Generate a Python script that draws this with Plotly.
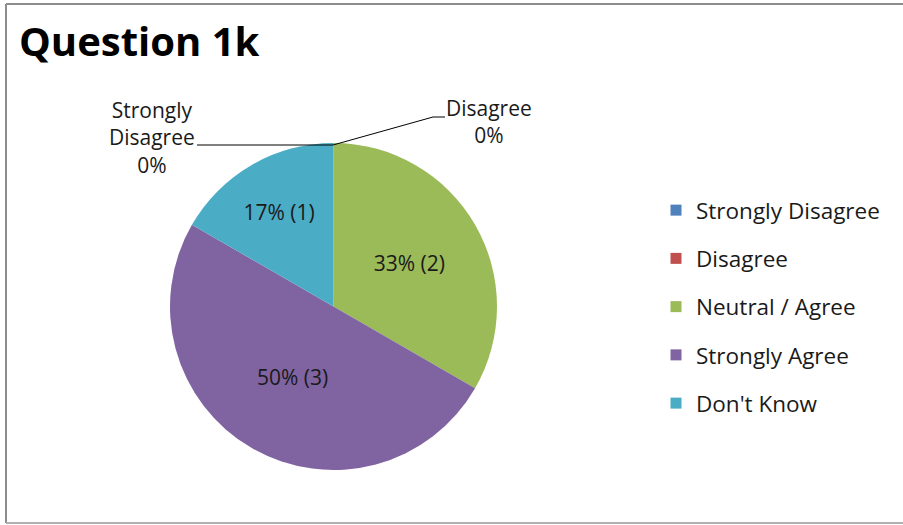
import plotly.graph_objects as go

W, H = 903, 525
OFF = 0  # body margin removed via post_script
categories = ["Strongly Disagree", "Disagree", "Neutral / Agree", "Strongly Agree", "Don't Know"]
counts = [0, 0, 2, 3, 1]
colors = ["#4F81BD", "#C0504D", "#9BBB59", "#8064A2", "#4BACC6"]
title_text = "Question 1k"
FONT = "Open Sans, sans-serif"
TXT = "#1a1a1a"

def px_x(x):
    return (x - OFF) / W

def px_y(y):
    return 1 - (y - OFF) / H

templates = ["%{percent:.0%} (%{value})" if c > 0 else "" for c in counts]

fig = go.Figure()
fig.add_trace(go.Pie(
    labels=categories, values=counts, sort=False, direction="clockwise", rotation=0,
    marker=dict(colors=colors, line=dict(width=0)),
    texttemplate=templates, textposition="inside", insidetextorientation="horizontal",
    textfont=dict(family=FONT, size=21, color=TXT),
    domain=dict(x=[px_x(170), px_x(497)], y=[px_y(470), px_y(143)]),
    showlegend=False, hoverinfo="label+value+percent",
))

for cat, col in zip(categories, colors):
    fig.add_trace(go.Scatter(
        x=[None], y=[None], mode="markers", name=cat, legendgroup=cat,
        marker=dict(symbol="square", size=11, color=col),
    ))

total = sum(counts)
zero_labels = [f"{c}<br>{round(100 * v / total)}%" for c, v in zip(categories, counts)]
fig.add_annotation(x=px_x(152), y=px_y(137), xref="paper", yref="paper",
                   xanchor="center", yanchor="middle",
                   text=zero_labels[0].replace(" ", "<br>", 1), showarrow=False,
                   font=dict(family=FONT, size=21, color=TXT), align="center")
fig.add_annotation(x=px_x(489), y=px_y(122), xref="paper", yref="paper",
                   xanchor="center", yanchor="middle",
                   text=zero_labels[1], showarrow=False,
                   font=dict(family=FONT, size=21, color=TXT), align="center")

shapes = [
    dict(type="line", xref="paper", yref="paper", x0=px_x(197), y0=px_y(145), x1=px_x(333), y1=px_y(145),
         line=dict(color="#000", width=1)),
    dict(type="path", xref="paper", yref="paper",
         path=f"M {px_x(333)} {px_y(145)} L {px_x(433)} {px_y(117)} L {px_x(445)} {px_y(117)}",
         line=dict(color="#000", width=1)),
    dict(type="line", xref="paper", yref="paper", x0=px_x(6), y0=px_y(4), x1=px_x(6), y1=px_y(523),
         line=dict(color="#8c8c8c", width=2)),
    dict(type="line", xref="paper", yref="paper", x0=px_x(6), y0=px_y(4), x1=1.01, y1=px_y(4),
         line=dict(color="#8c8c8c", width=2)),
    dict(type="line", xref="paper", yref="paper", x0=px_x(6), y0=px_y(523), x1=1.01, y1=px_y(523),
         line=dict(color="#b0b0b0", width=2)),
]

fig.update_layout(
    width=W, height=H, margin=dict(l=0, r=0, t=0, b=0),
    paper_bgcolor="white", plot_bgcolor="white",
    title=dict(text=f"<b>{title_text}</b>", x=px_x(19), y=px_y(42), xanchor="left", yanchor="middle",
               font=dict(family=FONT, size=40, color="#000")),
    xaxis=dict(visible=False), yaxis=dict(visible=False),
    legend=dict(x=px_x(656), y=px_y(189), xanchor="left", yanchor="top",
                traceorder="grouped", tracegroupgap=16,
                font=dict(family=FONT, size=22.5, color=TXT),
                itemwidth=30, bgcolor="rgba(0,0,0,0)"),
    shapes=shapes,
)

fig.write_html("out.html", config={"displayModeBar": False},
               post_script="document.body.style.margin='0';document.body.style.overflow='hidden';")
